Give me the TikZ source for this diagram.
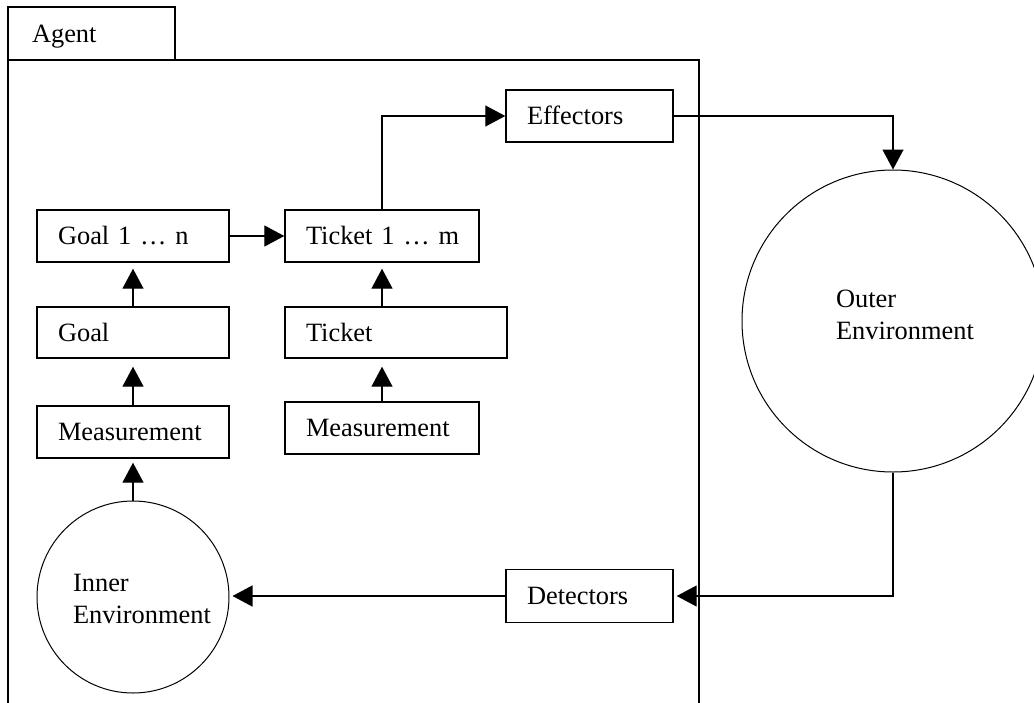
\documentclass[tikz,border=0pt]{standalone}
\usepackage{fontspec}
\setmainfont{Liberation Serif}
\usetikzlibrary{arrows.meta}
\begin{document}
\begin{tikzpicture}[x=1pt, y=-1pt,
  every node/.style={font=\fontsize{26.4}{32}\selectfont},
  box/.style={draw, line width=1.4pt, rectangle, minimum height=52pt,
    inner xsep=21pt, inner ysep=0pt, text height=17.5pt, text depth=0pt, align=left},
  env/.style={draw, circle, line width=1pt, inner sep=0pt},
  envtext/.style={inner sep=0pt, align=left},
  arr/.style={line width=1.3pt, -{Triangle[length=20pt, width=21pt]}},
  frame/.style={line width=1.3pt}]
\useasboundingbox (0,0) rectangle (1034,702);

% agent container: tab and open-bottomed frame
\node[box, minimum height=53pt, inner xsep=24pt, text width=119pt] (tab) at (91.5,33.5) {Agent};
\draw[frame] (8,712) -- (8,60) -- (699,60) -- (699,712);

% goal chain
\node[box, text width=150pt] (goalN) at (133,236) {\mbox{Goal 1 … n}};
\node[box, minimum height=51pt, text width=150pt] (goal) at (133,332.5) {Goal};
\node[box, text width=150pt] (measL) at (133,432) {\mbox{Measurement}};

% ticket chain
\node[box, text width=152pt] (ticketM) at (382,236) {\mbox{Ticket 1 … m}};
\node[box, minimum height=51pt, text width=180pt] (ticket) at (396,332.5) {Ticket};
\node[box, text width=152pt] (measR) at (382,428) {\mbox{Measurement}};

% interface to the outside
\node[box, text width=125pt] (effectors) at (589.5,116) {Effectors};
\node[box, minimum height=53pt, text width=125pt] (detectors) at (589.5,596) {Detectors};

% environments
\node[env, minimum size=192pt] (inner) at (133,597) {};
\node[envtext] (innertxt) at ([shift={(9,2)}]inner.center) {Inner\\Environment};
\node[env, minimum size=302pt] (outer) at (893,321) {};
\node[envtext] (outertxt) at ([shift={(12,-6)}]outer.center) {Outer\\Environment};

% connectors
\draw[arr, shorten >=4pt] (inner.north) -- (measL.south);
\draw[arr, shorten >=8pt] (measL.north) -- (goal.south);
\draw[arr, shorten >=6pt] (goal.north) -- (goalN.south);
\draw[arr] (goalN.east) -- (ticketM.west);
\draw[arr, shorten >=8pt] (measR.north) -- (measR.north |- ticket.south);
\draw[arr, shorten >=6pt] (ticket.north -| ticketM.south) -- (ticketM.south);
\draw[arr] (ticketM.north) |- (effectors.west);
\draw[arr] (effectors.east) -| (outer.north);
\draw[arr, shorten >=3pt] (outer.south) |- (detectors.east);
\draw[arr, shorten >=3pt] (detectors.west) -- (detectors.west -| inner.east);
\end{tikzpicture}
\end{document}
